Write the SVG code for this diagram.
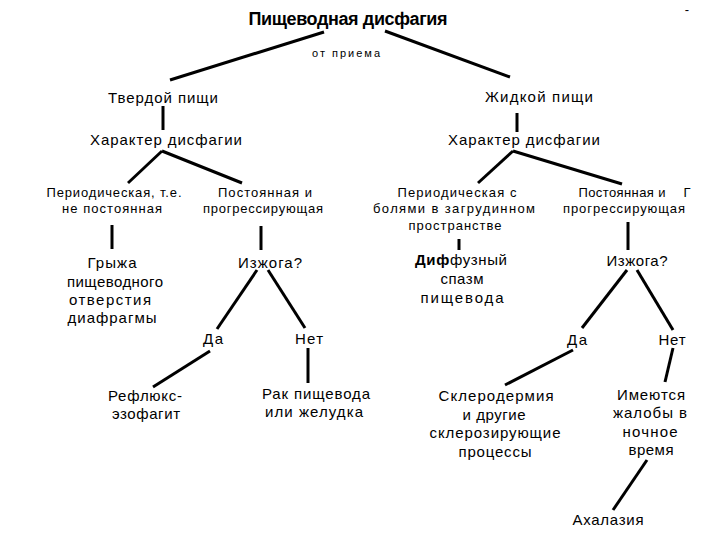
<svg xmlns="http://www.w3.org/2000/svg" width="720" height="540" viewBox="0 0 720 540">
<style>
text{font-family:"Liberation Sans",Arial,sans-serif;fill:#000;text-anchor:middle}
.t{font-size:18px;font-weight:bold}
.m{font-size:15px}
.s{font-size:13px}
.xs{font-size:11px}
.c line{stroke:#000;stroke-width:3;stroke-linecap:butt}
</style>
<rect width="720" height="540" fill="#fff"/>
<g class="c" id="connectors">
<line x1="324" y1="32" x2="170" y2="80"/>
<line x1="385" y1="31" x2="510" y2="77"/>
<line x1="163" y1="106" x2="163" y2="130"/>
<line x1="517" y1="113" x2="517" y2="132"/>
<line x1="162" y1="151" x2="128" y2="183"/>
<line x1="162" y1="151" x2="242" y2="183"/>
<line x1="513" y1="151" x2="478" y2="183"/>
<line x1="513" y1="151" x2="622" y2="184"/>
<line x1="112" y1="225" x2="112" y2="249"/>
<line x1="261" y1="226" x2="261" y2="250"/>
<line x1="459" y1="239" x2="459" y2="250"/>
<line x1="628" y1="222" x2="628" y2="250"/>
<line x1="257" y1="270" x2="217" y2="329"/>
<line x1="268" y1="270" x2="305" y2="328"/>
<line x1="210" y1="351" x2="153" y2="387"/>
<line x1="308" y1="348" x2="308" y2="383"/>
<line x1="627" y1="270" x2="582" y2="328"/>
<line x1="637" y1="270" x2="673" y2="330"/>
<line x1="573" y1="350" x2="505" y2="385"/>
<line x1="673" y1="348" x2="665" y2="382"/>
<line x1="647" y1="460" x2="613" y2="510"/>
</g>
<g id="title"><text class="t" x="348" y="25" textLength="199">Пищеводная дисфагия</text></g>
<g id="ot-priema"><text class="xs" x="346" y="57" textLength="68">от приема</text></g>
<g id="solid"><text class="m" x="163" y="103" textLength="110">Твердой пищи</text></g>
<g id="liquid"><text class="m" x="539" y="102" textLength="108">Жидкой пищи</text></g>
<g id="char-left"><text class="m" x="166" y="145" textLength="152">Характер дисфагии</text></g>
<g id="char-right"><text class="m" x="524" y="145" textLength="152">Характер дисфагии</text></g>
<g id="periodic-left">
<text class="s" x="114" y="197" textLength="135">Периодическая, т.е.</text>
<text class="s" x="112" y="213" textLength="100">не постоянная</text>
</g>
<g id="constant-left">
<text class="s" x="265" y="197" textLength="94">Постоянная и</text>
<text class="s" x="263" y="213" textLength="120">прогрессирующая</text>
</g>
<g id="periodic-right">
<text class="s" x="457" y="197" textLength="119">Периодическая с</text>
<text class="s" x="454" y="213" textLength="162">болями в загрудинном</text>
<text class="s" x="455" y="230" textLength="93">пространстве</text>
</g>
<g id="constant-right">
<text class="s" x="622" y="197" textLength="87">Постоянная и</text>
<text class="s" x="687" y="197">Г</text>
<text class="s" x="624" y="213" textLength="122">прогрессирующая</text>
</g>
<g id="hernia">
<text class="m" x="112" y="268" textLength="49">Грыжа</text>
<text class="m" x="115" y="287" textLength="96">пищеводного</text>
<text class="m" x="110" y="305" textLength="82">отверстия</text>
<text class="m" x="112" y="323" textLength="89">диафрагмы</text>
</g>
<g id="heartburn-left"><text class="m" x="270" y="268" textLength="64">Изжога?</text></g>
<g id="yes-left"><text class="m" x="213" y="344" textLength="20">Да</text></g>
<g id="no-left"><text class="m" x="309" y="344" textLength="28">Нет</text></g>
<g id="reflux">
<text class="m" x="145" y="401" textLength="74">Рефлюкс-</text>
<text class="m" x="146" y="419" textLength="68">эзофагит</text>
</g>
<g id="cancer">
<text class="m" x="316" y="399" textLength="108">Рак пищевода</text>
<text class="m" x="314" y="417" textLength="98">или желудка</text>
</g>
<g id="spasm">
<text class="m" x="461" y="265" textLength="92"><tspan font-weight="bold">Диф</tspan>фузный</text>
<text class="m" x="462" y="284" textLength="43">спазм</text>
<text class="m" x="462" y="303" textLength="83">пищевода</text>
</g>
<g id="heartburn-right"><text class="m" x="637" y="266" textLength="61">Изжога?</text></g>
<g id="yes-right"><text class="m" x="577" y="345" textLength="20">Да</text></g>
<g id="no-right"><text class="m" x="672" y="345" textLength="27">Нет</text></g>
<g id="sclero">
<text class="m" x="496" y="401" textLength="115">Склеродермия</text>
<text class="m" x="494" y="420" textLength="63">и другие</text>
<text class="m" x="495" y="438" textLength="131">склерозирующие</text>
<text class="m" x="495" y="457" textLength="73">процессы</text>
</g>
<g id="night">
<text class="m" x="651" y="400" textLength="68">Имеются</text>
<text class="m" x="650" y="418" textLength="74">жалобы в</text>
<text class="m" x="650" y="437" textLength="55">ночное</text>
<text class="m" x="651" y="455" textLength="45">время</text>
</g>
<g id="achalasia"><text class="m" x="608" y="525" textLength="71">Ахалазия</text></g>
<g id="mark"><text class="s" x="687" y="14">-</text></g>
</svg>
